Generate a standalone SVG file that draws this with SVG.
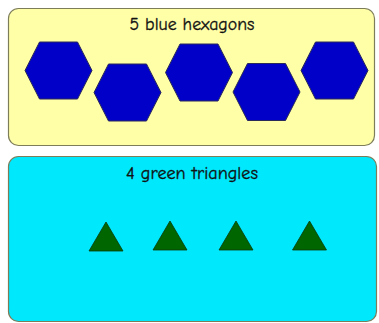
<svg xmlns="http://www.w3.org/2000/svg" width="379" height="323" viewBox="0 0 379 323">
<defs>
<style>
.panel{stroke:#7d7d5a;stroke-width:1.2}
.hex{fill:#0000c8;stroke:#2a2a5a;stroke-width:1}
.tri{fill:#006600;stroke:#0a3a0a;stroke-width:0.8}
.lbl{font-family:"Comic Sans MS","Comic Neue","Open Sans","Liberation Sans",sans-serif;font-size:17px;fill:#111111;stroke:#111111;stroke-width:0.3;text-anchor:middle}
</style>
<polygon id="hexshape" points="-33.5,0 -19,-28.5 19,-28.5 33.5,0 19,28.5 -19,28.5"/>
<polygon id="trishape" points="0,-14.5 17,14.5 -17,14.5"/>
</defs>
<rect width="379" height="323" fill="#ffffff"/>
<g id="top-panel">
<rect class="panel" x="8.5" y="8.5" width="366" height="137" rx="10" fill="#ffffa8"/>
<text class="lbl" x="192" y="30" textLength="125" lengthAdjust="spacingAndGlyphs">5 blue hexagons</text>
</g>
<g id="hex1"><use href="#hexshape" class="hex" x="58.5" y="70.5"/></g>
<g id="hex2"><use href="#hexshape" class="hex" x="127.5" y="92.5"/></g>
<g id="hex3"><use href="#hexshape" class="hex" x="199" y="72.5"/></g>
<g id="hex4"><use href="#hexshape" class="hex" x="266.5" y="92"/></g>
<g id="hex5"><use href="#hexshape" class="hex" x="334.5" y="70.5"/></g>
<g id="bottom-panel">
<rect class="panel" x="8.5" y="156.5" width="368" height="165" rx="10" fill="#00e8fc"/>
<text class="lbl" x="192" y="179" textLength="132" lengthAdjust="spacingAndGlyphs">4 green triangles</text>
</g>
<g id="tri1"><use href="#trishape" class="tri" x="106" y="236.5"/></g>
<g id="tri2"><use href="#trishape" class="tri" x="170" y="235.5"/></g>
<g id="tri3"><use href="#trishape" class="tri" x="236" y="235.5"/></g>
<g id="tri4"><use href="#trishape" class="tri" x="309.5" y="235.5"/></g>
<g id="connectors"/>
</svg>
